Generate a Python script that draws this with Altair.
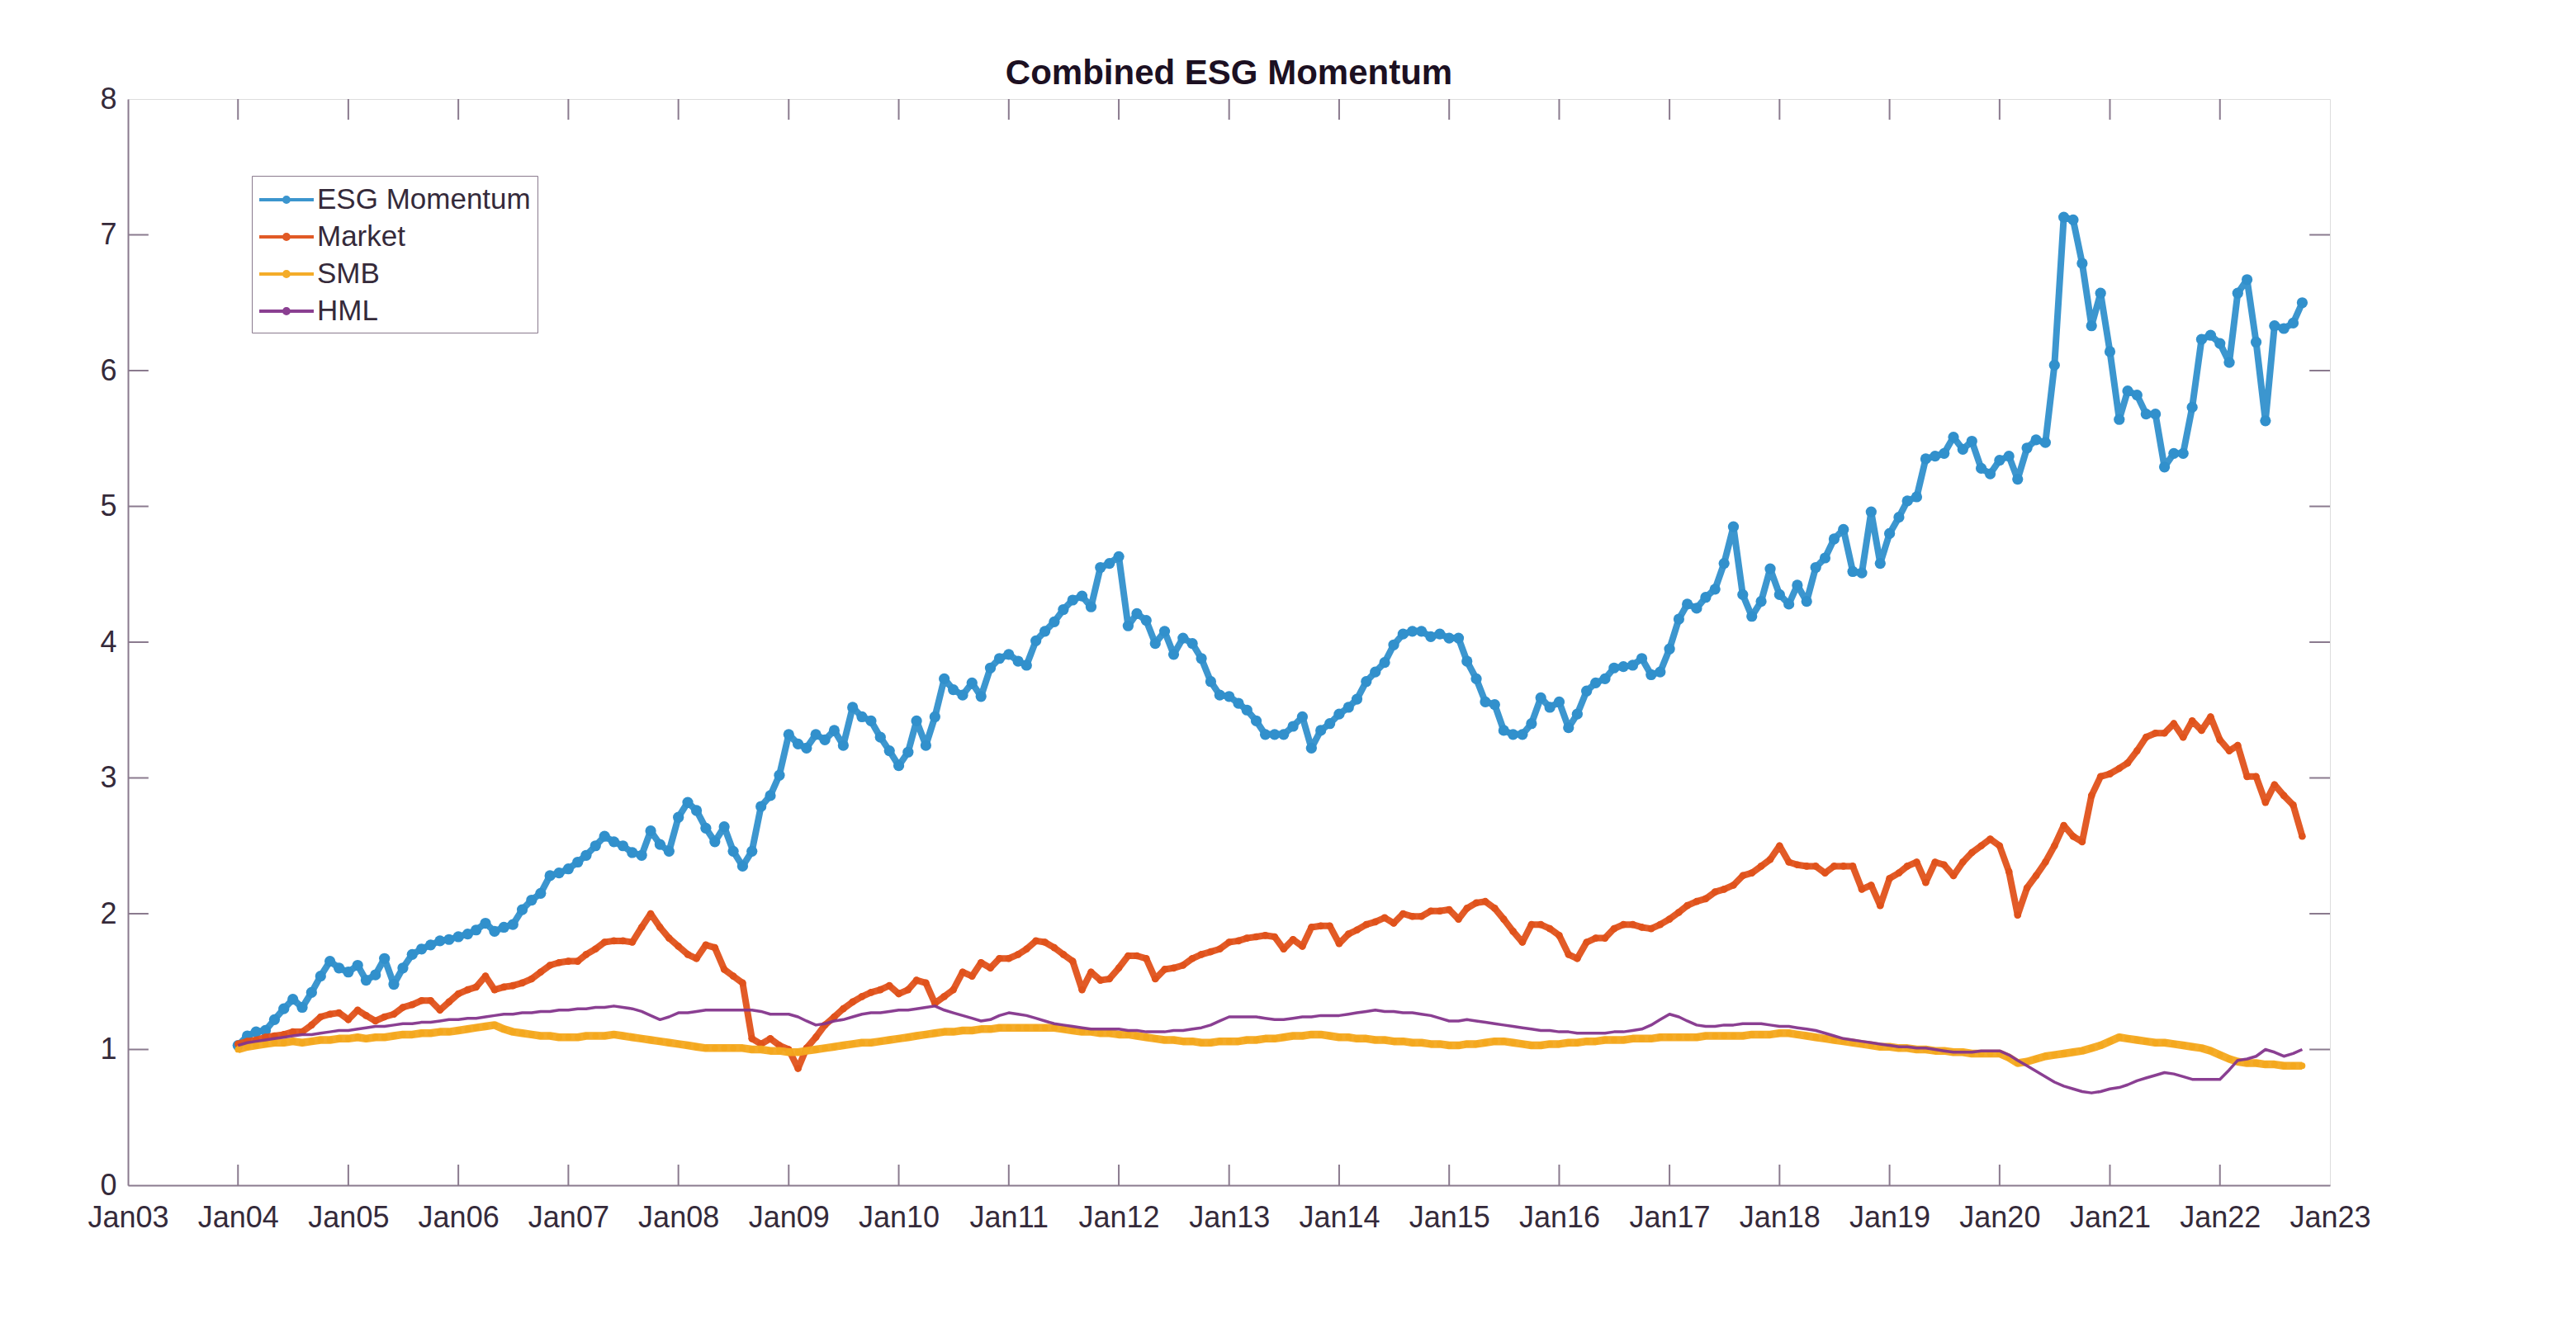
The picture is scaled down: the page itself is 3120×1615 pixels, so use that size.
import altair as alt
import pandas as pd

# ---------------- data (monthly, Jan 2004 .. Oct 2022) ----------------
series_names = ["ESG Momentum", "Market", "SMB", "HML"]
series_colors = ["#3190cc", "#e0521b", "#f4a81e", "#84358c"]
start_year = 2004

esg = [
    1.03, 1.10, 1.13, 1.14, 1.22, 1.30, 1.37, 1.31, 1.42, 1.54, 1.65, 1.60,
    1.57, 1.62, 1.51, 1.55, 1.67, 1.48, 1.60, 1.70, 1.74, 1.77, 1.80, 1.81,
    1.83, 1.85, 1.88, 1.93, 1.87, 1.90, 1.92, 2.03, 2.10, 2.15, 2.28, 2.30,
    2.33, 2.38, 2.43, 2.50, 2.57, 2.53, 2.50, 2.45, 2.43, 2.61, 2.51, 2.46,
    2.71, 2.82, 2.76, 2.63, 2.53, 2.64, 2.46, 2.35, 2.46, 2.79, 2.87, 3.02,
    3.32, 3.25, 3.22, 3.32, 3.28, 3.35, 3.24, 3.52, 3.45, 3.42, 3.30, 3.20,
    3.09, 3.19, 3.42, 3.24, 3.45, 3.73, 3.65, 3.61, 3.70, 3.60, 3.81, 3.88,
    3.91, 3.86, 3.83, 4.01, 4.08, 4.15, 4.24, 4.31, 4.34, 4.26, 4.55, 4.58,
    4.63, 4.12, 4.21, 4.16, 3.99, 4.08, 3.91, 4.03, 3.99, 3.88, 3.71, 3.61,
    3.60, 3.55, 3.50, 3.42, 3.32, 3.32, 3.32, 3.38, 3.45, 3.22, 3.35, 3.40,
    3.47, 3.52, 3.58, 3.71, 3.78, 3.85, 3.98, 4.06, 4.08, 4.08, 4.04, 4.06,
    4.03, 4.03, 3.86, 3.73, 3.56, 3.54, 3.35, 3.32, 3.32, 3.40, 3.59, 3.52,
    3.56, 3.37, 3.47, 3.64, 3.70, 3.73, 3.81, 3.82, 3.83, 3.88, 3.76, 3.78,
    3.95, 4.17, 4.28, 4.25, 4.33, 4.39, 4.58, 4.85, 4.35, 4.19, 4.30, 4.54,
    4.35, 4.28, 4.42, 4.30, 4.55, 4.62, 4.76, 4.83, 4.52, 4.51, 4.96, 4.58,
    4.80, 4.92, 5.04, 5.07, 5.35, 5.37, 5.39, 5.51, 5.42, 5.48, 5.28, 5.24,
    5.34, 5.37, 5.20, 5.43, 5.49, 5.47, 6.04, 7.13, 7.11, 6.79, 6.33, 6.57,
    6.14, 5.64, 5.85, 5.82, 5.68, 5.68, 5.29, 5.39, 5.39, 5.73, 6.23, 6.26,
    6.20, 6.06, 6.57, 6.67, 6.21, 5.63, 6.33, 6.31, 6.35, 6.50,
]

market = [
    1.04, 1.06, 1.07, 1.09, 1.10, 1.11, 1.13, 1.13, 1.18, 1.24, 1.26, 1.27,
    1.22, 1.29, 1.25, 1.21, 1.24, 1.26, 1.31, 1.33, 1.36, 1.36, 1.29, 1.35,
    1.41, 1.44, 1.46, 1.54, 1.44, 1.46, 1.47, 1.49, 1.52, 1.57, 1.62, 1.64,
    1.65, 1.65, 1.70, 1.74, 1.79, 1.80, 1.80, 1.79, 1.90, 2.00, 1.90, 1.82,
    1.76, 1.70, 1.67, 1.77, 1.75, 1.59, 1.54, 1.49, 1.08, 1.04, 1.08, 1.03,
    1.00, 0.86, 1.01, 1.09, 1.18, 1.24, 1.30, 1.35, 1.39, 1.42, 1.44, 1.47,
    1.41, 1.44, 1.51, 1.49, 1.34, 1.39, 1.44, 1.57, 1.54, 1.64, 1.60, 1.67,
    1.67, 1.70, 1.74, 1.80, 1.79, 1.75, 1.70, 1.65, 1.44, 1.57, 1.51, 1.52,
    1.60, 1.69, 1.69, 1.67, 1.52, 1.59, 1.60, 1.62, 1.67, 1.70, 1.72, 1.74,
    1.79, 1.80, 1.82, 1.83, 1.84, 1.83, 1.74, 1.81, 1.76, 1.90, 1.91, 1.91,
    1.78, 1.85, 1.88, 1.92, 1.94, 1.97, 1.93, 2.00, 1.98, 1.98, 2.02, 2.02,
    2.03, 1.96, 2.04, 2.08, 2.09, 2.04, 1.96, 1.87, 1.79, 1.92, 1.92, 1.89,
    1.84, 1.70, 1.67, 1.79, 1.82, 1.82, 1.89, 1.92, 1.92, 1.90, 1.89, 1.92,
    1.96, 2.01, 2.06, 2.09, 2.11, 2.16, 2.18, 2.21, 2.28, 2.30, 2.35, 2.40,
    2.50, 2.38, 2.36, 2.35, 2.35, 2.30, 2.35, 2.35, 2.35, 2.18, 2.21, 2.06,
    2.26, 2.30, 2.35, 2.38, 2.23, 2.38, 2.36, 2.28, 2.38, 2.45, 2.50, 2.55,
    2.50, 2.31, 1.99, 2.19, 2.28, 2.38, 2.50, 2.65, 2.57, 2.53, 2.87, 3.01,
    3.03, 3.07, 3.11, 3.20, 3.30, 3.33, 3.33, 3.40, 3.30, 3.42, 3.35, 3.45,
    3.28, 3.20, 3.24, 3.01, 3.01, 2.82, 2.95, 2.87, 2.80, 2.57,
]

smb = [
    1.00, 1.02, 1.03, 1.04, 1.05, 1.05, 1.06, 1.05, 1.06, 1.07, 1.07, 1.08,
    1.08, 1.09, 1.08, 1.09, 1.09, 1.10, 1.11, 1.11, 1.12, 1.12, 1.13, 1.13,
    1.14, 1.15, 1.16, 1.17, 1.18, 1.15, 1.13, 1.12, 1.11, 1.10, 1.10, 1.09,
    1.09, 1.09, 1.10, 1.10, 1.10, 1.11, 1.10, 1.09, 1.08, 1.07, 1.06, 1.05,
    1.04, 1.03, 1.02, 1.01, 1.01, 1.01, 1.01, 1.01, 1.00, 1.00, 0.99, 0.99,
    0.98, 0.98, 0.99, 1.00, 1.01, 1.02, 1.03, 1.04, 1.05, 1.05, 1.06, 1.07,
    1.08, 1.09, 1.10, 1.11, 1.12, 1.13, 1.13, 1.14, 1.14, 1.15, 1.15, 1.16,
    1.16, 1.16, 1.16, 1.16, 1.16, 1.16, 1.15, 1.14, 1.13, 1.13, 1.12, 1.12,
    1.11, 1.11, 1.10, 1.09, 1.08, 1.07, 1.07, 1.06, 1.06, 1.05, 1.05, 1.06,
    1.06, 1.06, 1.07, 1.07, 1.08, 1.08, 1.09, 1.10, 1.10, 1.11, 1.11, 1.10,
    1.09, 1.09, 1.08, 1.08, 1.07, 1.07, 1.06, 1.06, 1.05, 1.05, 1.04, 1.04,
    1.03, 1.03, 1.04, 1.04, 1.05, 1.06, 1.06, 1.05, 1.04, 1.03, 1.03, 1.04,
    1.04, 1.05, 1.05, 1.06, 1.06, 1.07, 1.07, 1.07, 1.08, 1.08, 1.08, 1.09,
    1.09, 1.09, 1.09, 1.09, 1.10, 1.10, 1.10, 1.10, 1.10, 1.11, 1.11, 1.11,
    1.12, 1.12, 1.11, 1.10, 1.09, 1.08, 1.07, 1.06, 1.05, 1.04, 1.03, 1.02,
    1.02, 1.01, 1.01, 1.00, 1.00, 0.99, 0.99, 0.98, 0.98, 0.97, 0.97, 0.97,
    0.97, 0.94, 0.90, 0.91, 0.93, 0.95, 0.96, 0.97, 0.98, 0.99, 1.01, 1.03,
    1.06, 1.09, 1.08, 1.07, 1.06, 1.05, 1.05, 1.04, 1.03, 1.02, 1.01, 0.99,
    0.96, 0.93, 0.91, 0.90, 0.90, 0.89, 0.89, 0.88, 0.88, 0.88,
]

hml = [
    1.03, 1.05, 1.06, 1.07, 1.08, 1.09, 1.10, 1.11, 1.11, 1.12, 1.13, 1.14,
    1.14, 1.15, 1.16, 1.17, 1.17, 1.18, 1.19, 1.19, 1.20, 1.20, 1.21, 1.22,
    1.22, 1.23, 1.23, 1.24, 1.25, 1.26, 1.26, 1.27, 1.27, 1.28, 1.28, 1.29,
    1.29, 1.30, 1.30, 1.31, 1.31, 1.32, 1.31, 1.30, 1.28, 1.25, 1.22, 1.24,
    1.27, 1.27, 1.28, 1.29, 1.29, 1.29, 1.29, 1.29, 1.29, 1.28, 1.26, 1.26,
    1.26, 1.24, 1.21, 1.18, 1.19, 1.21, 1.22, 1.24, 1.26, 1.27, 1.27, 1.28,
    1.29, 1.29, 1.30, 1.31, 1.32, 1.29, 1.27, 1.25, 1.23, 1.21, 1.22, 1.25,
    1.27, 1.26, 1.25, 1.23, 1.21, 1.19, 1.18, 1.17, 1.16, 1.15, 1.15, 1.15,
    1.15, 1.14, 1.14, 1.13, 1.13, 1.13, 1.14, 1.14, 1.15, 1.16, 1.18, 1.21,
    1.24, 1.24, 1.24, 1.24, 1.23, 1.22, 1.22, 1.23, 1.24, 1.24, 1.25, 1.25,
    1.25, 1.26, 1.27, 1.28, 1.29, 1.28, 1.28, 1.27, 1.27, 1.26, 1.25, 1.23,
    1.21, 1.21, 1.22, 1.21, 1.20, 1.19, 1.18, 1.17, 1.16, 1.15, 1.14, 1.14,
    1.13, 1.13, 1.12, 1.12, 1.12, 1.12, 1.13, 1.13, 1.14, 1.15, 1.18, 1.22,
    1.26, 1.24, 1.21, 1.18, 1.17, 1.17, 1.18, 1.18, 1.19, 1.19, 1.19, 1.18,
    1.17, 1.17, 1.16, 1.15, 1.14, 1.12, 1.10, 1.08, 1.07, 1.06, 1.05, 1.04,
    1.03, 1.02, 1.02, 1.01, 1.01, 1.00, 0.99, 0.98, 0.98, 0.98, 0.99, 0.99,
    0.99, 0.96, 0.92, 0.88, 0.84, 0.80, 0.76, 0.73, 0.71, 0.69, 0.68, 0.69,
    0.71, 0.72, 0.74, 0.77, 0.79, 0.81, 0.83, 0.82, 0.80, 0.78, 0.78, 0.78,
    0.78, 0.85, 0.92, 0.93, 0.95, 1.00, 0.98, 0.95, 0.97, 1.00,
]

x_tick_years = list(range(2003, 2024))
inner_tick_years = list(range(2004, 2023))
y_tick_values = [0, 1, 2, 3, 4, 5, 6, 7, 8]
inner_y_ticks = [1, 2, 3, 4, 5, 6, 7]


def month_date(i):
    return f"{start_year + i // 12}-{i % 12 + 1:02d}-01T00:00:00"


rows = []
for name, vals in zip(series_names, [esg, market, smb, hml]):
    for i, v in enumerate(vals):
        rows.append({"date": month_date(i), "value": v, "series": name})
df = pd.DataFrame(rows)

# ---------------- style ----------------
axis_color = "#8a7a8e"
label_color = "#352a3a"
FONT = "Liberation Sans"

x_scale = alt.Scale(domain=[alt.DateTime(year=2003, month=1, date=1),
                            alt.DateTime(year=2023, month=1, date=1)])
y_scale = alt.Scale(domain=[0, 8], nice=False, zero=False)

x_axis = alt.Axis(values=[alt.DateTime(year=y, month=1, date=1) for y in x_tick_years],
                  format="%b%y", formatType="time", title=None, grid=False,
                  tickSize=0, labelPadding=22, labelFontSize=36, labelFont=FONT,
                  labelColor=label_color, domainColor=axis_color, domainWidth=2,
                  labelOverlap=False, labelFlush=False)
y_axis = alt.Axis(values=y_tick_values, format="d", title=None, grid=False,
                  tickSize=0, labelPadding=14, labelFontSize=36, labelFont=FONT,
                  labelColor=label_color, domainColor=axis_color, domainWidth=2)

X = alt.X("date:T", scale=x_scale, axis=x_axis)
Y = alt.Y("value:Q", scale=y_scale, axis=y_axis)

# legend symbol: a line with a small dot (unit = half of a 38px symbol box)
legend_path = ("M-1.05,0L2.42,0M0.52,0A0.16,0.16,0,1,0,0.84,0"
               "A0.16,0.16,0,1,0,0.52,0")
color = alt.Color(
    "series:N",
    scale=alt.Scale(domain=series_names, range=series_colors),
    sort=series_names,
    legend=alt.Legend(
        title=None, orient="none", legendX=150, legendY=93, direction="vertical",
        labelFontSize=35, labelFont=FONT, labelColor=label_color, labelOffset=29,
        labelLimit=600,
        symbolType=legend_path, symbolSize=1444, symbolStrokeWidth=4,
        strokeColor=axis_color, fillColor="white", padding=8, rowPadding=6,
        cornerRadius=0,
    ),
)

base = alt.Chart(df)
line_widths = {"ESG Momentum": 8, "Market": 8, "SMB": 9.5, "HML": 3.5}
point_sizes = {"ESG Momentum": 175, "Market": 75, "SMB": 60}

layers = []
for name in series_names:
    sub = base.transform_filter(alt.datum.series == name)
    layers.append(sub.mark_line(strokeWidth=line_widths[name], opacity=0.95,
                                strokeJoin="round")
                  .encode(x=X, y=Y, color=color))
    if name in point_sizes:
        layers.append(sub.mark_point(filled=True, size=point_sizes[name], opacity=1)
                      .encode(x=X, y=Y, color=color))

# inward box ticks (MATLAB style)
xt = pd.DataFrame({
    "date": [f"{y}-01-01T00:00:00" for y in inner_tick_years],
    "value": [0.0] * len(inner_tick_years),
    "v_in_bottom": [0.152] * len(inner_tick_years),
    "v_top": [8.0] * len(inner_tick_years),
    "v_in_top": [7.848] * len(inner_tick_years),
})
bottom_ticks = alt.Chart(xt).mark_rule(color=axis_color, strokeWidth=2).encode(
    x=X, y=Y, y2="v_in_bottom:Q")
top_ticks = alt.Chart(xt).mark_rule(color=axis_color, strokeWidth=2).encode(
    x=X, y=alt.Y("v_top:Q", scale=y_scale, axis=y_axis), y2="v_in_top:Q")

yt = pd.DataFrame({
    "value": inner_y_ticks,
    "date": ["2003-01-01T00:00:00"] * len(inner_y_ticks),
    "d_left_in": ["2003-03-10T00:00:00"] * len(inner_y_ticks),
    "d_right": ["2023-01-01T00:00:00"] * len(inner_y_ticks),
    "d_right_in": ["2022-10-25T00:00:00"] * len(inner_y_ticks),
})
left_ticks = alt.Chart(yt).mark_rule(color=axis_color, strokeWidth=2).encode(
    x=X, x2="d_left_in:T", y=Y)
right_ticks = alt.Chart(yt).mark_rule(color=axis_color, strokeWidth=2).encode(
    x=alt.X("d_right:T", scale=x_scale, axis=x_axis), x2="d_right_in:T", y=Y)

chart = alt.layer(bottom_ticks, top_ticks, left_ticks, right_ticks, *layers).properties(
    width=2667, height=1316,
    title=alt.TitleParams("Combined ESG Momentum", fontSize=42, fontWeight="bold",
                          font=FONT, color="#1c1022", offset=-9, anchor="middle"),
    autosize=alt.AutoSizeParams(type="none"),
    padding={"left": 147, "top": 112, "right": 290, "bottom": 170},
).configure_view(stroke=axis_color, strokeWidth=2).configure(background="white")

chart.save("out.html", embed_options={"renderer": "svg", "actions": False})
